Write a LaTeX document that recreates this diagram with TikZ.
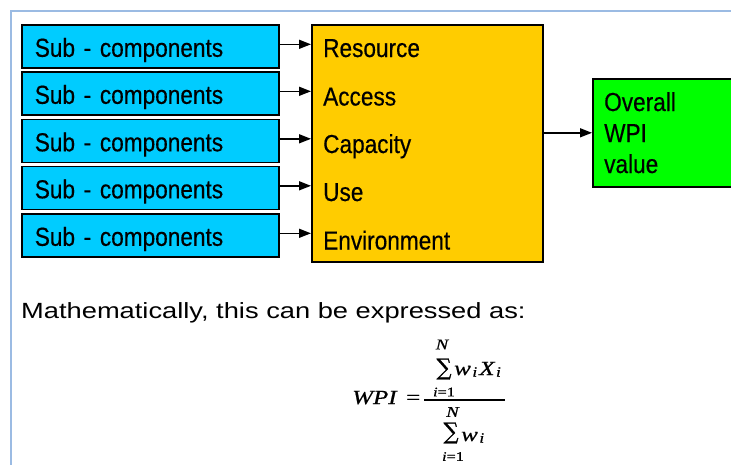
\documentclass[tikz,border=0pt]{standalone}
\usepackage{amsmath}
\usepackage{fontspec}
\setmainfont{Liberation Sans}
\newfontfamily\boxfont[FakeStretch=0.87,FakeBold=0.4]{Liberation Sans}
\newfontfamily\widefont[FakeStretch=1.24]{Liberation Sans}
\newfontfamily\fmlfont[FakeStretch=1.25,FakeBold=0.7]{Liberation Serif}
\newfontfamily\sumfont[FakeBold=1.2]{DejaVu Serif}
\usetikzlibrary{arrows.meta}
\definecolor{cyanbox}{RGB}{0,204,255}
\definecolor{orng}{RGB}{255,204,0}
\definecolor{grn}{RGB}{0,255,0}
\definecolor{framecol}{RGB}{155,187,227}
\tikzset{
  boxtxt/.style={font=\boxfont\fontsize{26}{31}\selectfont},
  subbox/.style={boxtxt, draw=black, line width=1.6pt, fill=cyanbox,
    minimum width=257pt, minimum height=43pt, text width=231pt, align=left,
    inner xsep=13pt, inner ysep=0pt, text height=21pt, text depth=0pt, anchor=north west},
  bigbox/.style={draw=black, line width=1.6pt, inner sep=0pt, anchor=north west},
  lab/.style={boxtxt, inner sep=0pt, anchor=base west},
  conn/.style={-{Triangle[length=12pt,width=9pt]}, line width=1.5pt},
  fml/.style={inner sep=0pt, font=\fmlfont\itshape\fontsize{20}{22}\selectfont},
  fmlup/.style={inner sep=0pt, font=\fmlfont\upshape\fontsize{20}{22}\selectfont},
  fmlN/.style={inner sep=0pt, font=\fmlfont\itshape\fontsize{15}{16}\selectfont},
  fmllim/.style={inner sep=0pt, font=\fmlfont\fontsize{13}{14}\selectfont},
  sumsym/.style={inner sep=0pt},
}
\newcommand{\subi}{\raisebox{-1.5pt}{\fontsize{14}{15}\selectfont i}}
\newcommand{\bigsum}{\resizebox{15pt}{16.5pt}{\sumfont ∑}}
\begin{document}
\begin{tikzpicture}[x=1pt,y=-1pt]
\path[fill=white,use as bounding box] (0,0) rectangle (731,464);
% frame
\draw[framecol, line width=1.5pt] (740,11) -| (11,470);
% sub-component boxes
\node[subbox] (s1) at (21,24) {Sub - components};
\node[subbox] (s2) at (21,71) {Sub - components};
\node[subbox] (s3) at (21,118.5) {Sub - components};
\node[subbox] (s4) at (21,165.5) {Sub - components};
\node[subbox] (s5) at (21,213) {Sub - components};
% category box
\node[bigbox, fill=orng, minimum width=231pt, minimum height=237pt] (cat) at (311,24) {};
\node[lab] (l1) at (323,57) {Resource};
\node[lab] (l2) at (323,105.5) {Access};
\node[lab] (l3) at (323,153) {Capacity};
\node[lab] (l4) at (323,201) {Use};
\node[lab] (l5) at (323,249.5) {Environment};
% WPI box
\node[bigbox, fill=grn, minimum width=150pt, minimum height=108pt] (wpi) at (592,78) {};
\node[lab, align=left, text width=120pt] (wl) at (604,111) {Overall\\WPI\\value};
% connectors
\foreach \i in {1,...,5}{
  \coordinate (a\i) at ([yshift=2pt]s\i.east);
  \draw[conn] (a\i) -- (a\i -| cat.west);
}
\draw[conn] (wpi.west -| cat.east) -- (wpi.west);
% text
\node[anchor=base west, inner sep=0pt, font=\widefont\fontsize{22}{25}\selectfont] (mtxt) at (21,318) {Mathematically, this can be expressed as:};
% formula
\node[fml, anchor=base west] (wpiL) at (352,404) {WPI};
\node[fmlup, anchor=base west] (eq) at (406,404) {=};
\coordinate (barL) at (424,400);
\coordinate (barR) at (505,400);
\draw[line width=1.2pt] (barL) -- (barR);
\node[sumsym] (su1) at (444,369) {\bigsum};
\node[fmlN] (n1) at (442,344.5) {N};
\node[fmllim] (i1) at (444,392) {\textit{i}=1};
\node[fml, anchor=base west] (num) at (454,375) {w\kern1.5pt\subi\kern2pt X\kern1.5pt\subi};
\node[sumsym] (su2) at (451,433) {\bigsum};
\node[fmlN] (n2) at (452.5,412) {N};
\node[fmllim] (i2) at (453,456.5) {\textit{i}=1};
\node[fml, anchor=base west] (den) at (461,441) {w\kern1.5pt\subi};
\end{tikzpicture}
\end{document}
